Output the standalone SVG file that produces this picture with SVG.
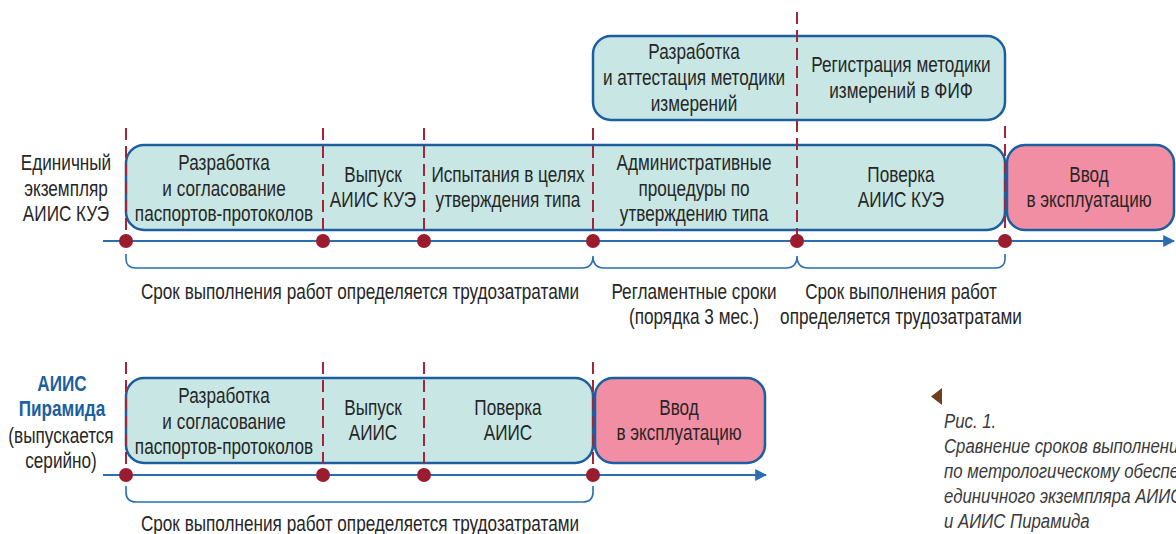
<svg xmlns="http://www.w3.org/2000/svg" width="1176" height="534" viewBox="0 0 1176 534">
<style>
text{font-family:"Liberation Sans",Arial,sans-serif;font-size:22px;fill:#262626;text-anchor:middle}
.cy{fill:#c8e6e3;stroke:#1b5fa0;stroke-width:2.5}
.pk{fill:#f28ea4;stroke:#1b5fa0;stroke-width:2.5}
.dash{stroke:#a32638;stroke-width:2;stroke-dasharray:12 6;fill:none}
.axis{stroke:#2a6db1;stroke-width:2;fill:none}
.br{stroke:#2a6db1;stroke-width:1.6;fill:none}
.dot{fill:#9a1c2e}
.bl{fill:#1b5fa0;font-weight:bold}
.cap{font-style:italic;text-anchor:start;font-size:21px;fill:#3a3a3a}
</style>
<defs>
<marker id="ah" viewBox="0 0 10 10" refX="9" refY="5" markerWidth="6" markerHeight="6" markerUnits="strokeWidth" orient="auto">
<path d="M0,0 L10,5 L0,10 z" fill="#2a6db1"/>
</marker>
</defs>

<!-- Row 1 nodes -->
<g id="main-box-1"><rect class="cy" x="126" y="145" width="879" height="85" rx="18"/></g>
<g id="n-dev1">
<text transform="matrix(0.78 0 0 1 224 170)">Разработка</text>
<text transform="matrix(0.78 0 0 1 224 196)">и согласование</text>
<text transform="matrix(0.78 0 0 1 224 221)">паспортов-протоколов</text>
</g>
<g id="n-issue1">
<text transform="matrix(0.78 0 0 1 373 182)">Выпуск</text>
<text transform="matrix(0.78 0 0 1 373 207)">АИИС КУЭ</text>
</g>
<g id="n-test1">
<text transform="matrix(0.78 0 0 1 508 182)">Испытания в целях</text>
<text transform="matrix(0.78 0 0 1 508 207)">утверждения типа</text>
</g>
<g id="n-admin1">
<text transform="matrix(0.78 0 0 1 694 170)">Административные</text>
<text transform="matrix(0.78 0 0 1 694 196)">процедуры по</text>
<text transform="matrix(0.78 0 0 1 694 221)">утверждению типа</text>
</g>
<g id="n-verify1">
<text transform="matrix(0.78 0 0 1 901 182)">Поверка</text>
<text transform="matrix(0.78 0 0 1 901 207)">АИИС КУЭ</text>
</g>
<g id="n-commission1">
<rect class="pk" x="1007" y="145" width="167" height="85" rx="18"/>
<text transform="matrix(0.78 0 0 1 1089 182)">Ввод</text>
<text transform="matrix(0.78 0 0 1 1089 207)">в эксплуатацию</text>
</g>
<g id="n-method">
<rect class="cy" x="593" y="36" width="412" height="84" rx="18"/>
<text transform="matrix(0.78 0 0 1 694 59)">Разработка</text>
<text transform="matrix(0.78 0 0 1 694 85)">и аттестация методики</text>
<text transform="matrix(0.78 0 0 1 694 111)">измерений</text>
<text transform="matrix(0.78 0 0 1 901 72)">Регистрация методики</text>
<text transform="matrix(0.78 0 0 1 901 98)">измерений в ФИФ</text>
</g>
<g id="label-1">
<text transform="matrix(0.78 0 0 1 66 170)">Единичный</text>
<text transform="matrix(0.78 0 0 1 66 196)">экземпляр</text>
<text transform="matrix(0.78 0 0 1 66 221)">АИИС КУЭ</text>
</g>

<!-- Row 2 nodes -->
<g id="main-box-2"><rect class="cy" x="126" y="378" width="467" height="85" rx="18"/></g>
<g id="n-dev2">
<text transform="matrix(0.78 0 0 1 224 403)">Разработка</text>
<text transform="matrix(0.78 0 0 1 224 429)">и согласование</text>
<text transform="matrix(0.78 0 0 1 224 454)">паспортов-протоколов</text>
</g>
<g id="n-issue2">
<text transform="matrix(0.78 0 0 1 373 415)">Выпуск</text>
<text transform="matrix(0.78 0 0 1 373 440)">АИИС</text>
</g>
<g id="n-verify2">
<text transform="matrix(0.78 0 0 1 508 415)">Поверка</text>
<text transform="matrix(0.78 0 0 1 508 440)">АИИС</text>
</g>
<g id="n-commission2">
<rect class="pk" x="595" y="378" width="170" height="85" rx="18"/>
<text transform="matrix(0.78 0 0 1 679 415)">Ввод</text>
<text transform="matrix(0.78 0 0 1 679 440)">в эксплуатацию</text>
</g>
<g id="label-2">
<text class="bl" transform="matrix(0.78 0 0 1 62 391)">АИИС</text>
<text class="bl" transform="matrix(0.78 0 0 1 62 416)">Пирамида</text>
<text transform="matrix(0.78 0 0 1 61 443)">(выпускается</text>
<text transform="matrix(0.78 0 0 1 61 468)">серийно)</text>
</g>

<!-- Connectors -->
<g id="connectors">
<line class="axis" x1="103" y1="241" x2="1174" y2="241" marker-end="url(#ah)"/>
<line class="axis" x1="103" y1="475" x2="766" y2="475" marker-end="url(#ah)"/>
<path class="dash" d="M126,128V241M323,128V241M424,128V241M593,128V241M797,12V241M1005,126V241"/>
<path class="dash" d="M126,362V475M323,362V475M424,362V475M593,362V475"/>
<g>
<circle class="dot" cx="126" cy="241" r="7"/><circle class="dot" cx="323" cy="241" r="7"/><circle class="dot" cx="424" cy="241" r="7"/>
<circle class="dot" cx="593" cy="241" r="7"/><circle class="dot" cx="797" cy="241" r="7"/><circle class="dot" cx="1005" cy="241" r="7"/>
<circle class="dot" cx="126" cy="475" r="7"/><circle class="dot" cx="323" cy="475" r="7"/><circle class="dot" cx="424" cy="475" r="7"/><circle class="dot" cx="593" cy="475" r="7"/>
</g>
<path class="br" d="M126,254V259Q126,268 136,268H582Q593,268 593,256Q593,268 604,268H786Q797,268 797,256Q797,268 808,268H995Q1005,268 1005,259V254"/>
<path class="br" d="M126,486V492Q126,502 136,502H583Q593,502 593,492V486"/>
</g>

<!-- Bracket labels -->
<g id="labels">
<text transform="matrix(0.78 0 0 1 360 299)">Срок выполнения работ определяется трудозатратами</text>
<text transform="matrix(0.78 0 0 1 694 299)">Регламентные сроки</text>
<text transform="matrix(0.78 0 0 1 694 324)">(порядка 3 мес.)</text>
<text transform="matrix(0.78 0 0 1 901 299)">Срок выполнения работ</text>
<text transform="matrix(0.78 0 0 1 901 324)">определяется трудозатратами</text>
<text transform="matrix(0.78 0 0 1 360 531)">Срок выполнения работ определяется трудозатратами</text>
</g>

<!-- Caption -->
<g id="caption">
<path d="M942,388 L931,396.5 L942,405 z" fill="#6e4020"/>
<text class="cap" transform="matrix(0.8 0 0 1 944 428)">Рис. 1.</text>
<text class="cap" transform="matrix(0.8 0 0 1 944 453)">Сравнение сроков выполнения</text>
<text class="cap" transform="matrix(0.8 0 0 1 944 478)">по метрологическому обеспечению</text>
<text class="cap" transform="matrix(0.8 0 0 1 944 503)">единичного экземпляра АИИС</text>
<text class="cap" transform="matrix(0.8 0 0 1 944 528)">и АИИС Пирамида</text>
</g>
</svg>
